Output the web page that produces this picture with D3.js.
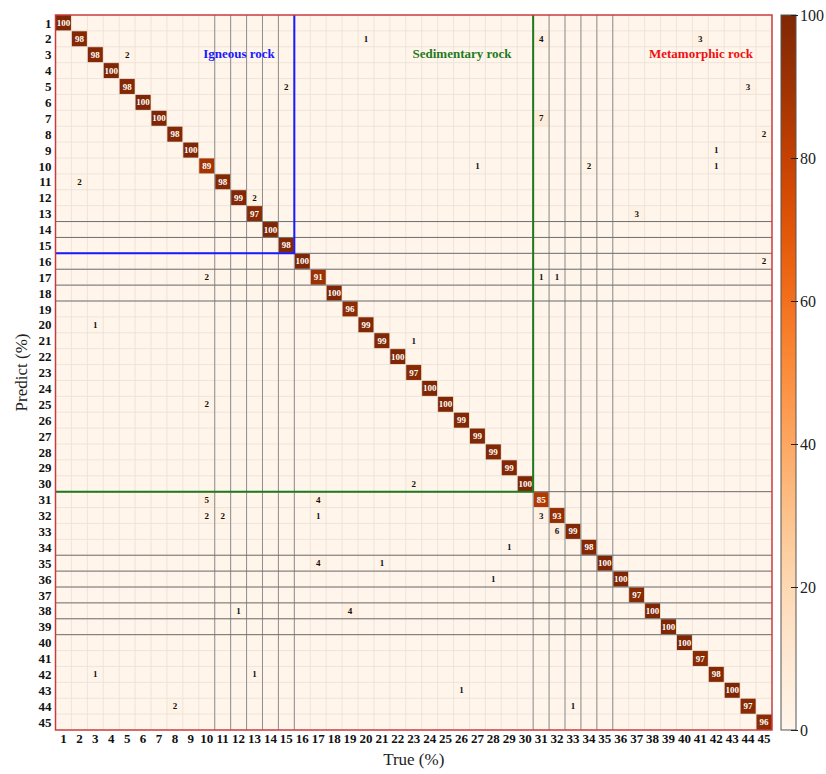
<!DOCTYPE html>
<html>
<head>
<meta charset="utf-8">
<script src="https://cdn.jsdelivr.net/npm/d3@7"></script>
<style>
  body { margin: 0; background: #fff; }
  svg { font-family: "Liberation Serif", "DejaVu Serif", serif; }
</style>
</head>
<body>
<script>
// class labels 1..45
const classes = ['1','2','3','4','5','6','7','8','9','10','11','12','13','14','15',
  '16','17','18','19','20','21','22','23','24','25','26','27','28','29','30',
  '31','32','33','34','35','36','37','38','39','40','41','42','43','44','45'];

// diagonal (correct) percentages, row i / col i
const diagonal = [100, 98, 98, 100, 98, 100, 100, 98, 100, 89, 98, 99, 97, 100, 98,
  100, 91, 100, 96, 99, 99, 100, 97, 100, 100, 99, 99, 99, 99, 100,
  85, 93, 99, 98, 100, 100, 97, 100, 100, 100, 97, 98, 100, 97, 96];

// off-diagonal entries: [predict, true, percent]
const offDiag = [
  [2, 20, 1], [2, 31, 4], [2, 41, 3],
  [3, 5, 2],
  [5, 15, 2], [5, 44, 3],
  [7, 31, 7],
  [8, 45, 2],
  [9, 42, 1],
  [10, 27, 1], [10, 34, 2], [10, 42, 1],
  [11, 2, 2],
  [12, 13, 2],
  [13, 37, 3],
  [16, 45, 2],
  [17, 10, 2], [17, 31, 1], [17, 32, 1],
  [20, 3, 1],
  [21, 23, 1],
  [25, 10, 2],
  [30, 23, 2],
  [31, 10, 5], [31, 17, 4],
  [32, 10, 2], [32, 11, 2], [32, 17, 1], [32, 31, 3],
  [33, 32, 6],
  [34, 29, 1],
  [35, 17, 4], [35, 21, 1],
  [36, 28, 1],
  [38, 12, 1], [38, 19, 4],
  [42, 3, 1], [42, 13, 1],
  [43, 26, 1],
  [44, 8, 2], [44, 33, 1]
];

const groups = [
  { name: 'Igneous rock', from: 1, to: 15, color: '#1a1aff' },
  { name: 'Sedimentary rock', from: 16, to: 30, color: '#1f7a1f' },
  { name: 'Metamorphic rock', from: 31, to: 45, color: '#ee1111' }
];

const colorTicks = [0, 20, 40, 60, 80, 100];

// boundaries (after class n) that get a darker grid line
const darkCols = [10, 11, 12, 13, 14, 15, 30, 31, 32, 33, 34, 35];
const darkRows = [13, 14, 15, 16, 17, 18, 30, 34, 35, 36, 37, 38, 39];

const width = 826, height = 774;
const mLeft = 55.5, mRight = 772, mTop = 15, mBottom = 730;

const svg = d3.select('body').append('svg')
  .attr('width', width)
  .attr('height', height);

const x = d3.scaleBand().domain(classes).range([mLeft, mRight]);
const y = d3.scaleBand().domain(classes).range([mTop, mBottom]);
const color = v => d3.interpolateOranges(v / 100);

// build full matrix cells
const cells = [];
classes.forEach(r => classes.forEach(c => cells.push({ r, c, v: 0 })));
const cellAt = (r, c) => cells[(r - 1) * classes.length + (c - 1)];
diagonal.forEach((v, i) => { cellAt(i + 1, i + 1).v = v; });
offDiag.forEach(([r, c, v]) => { cellAt(r, c).v = v; });

svg.append('g').selectAll('rect')
  .data(cells)
  .join('rect')
  .attr('x', d => x(d.c))
  .attr('y', d => y(d.r))
  .attr('width', x.bandwidth())
  .attr('height', y.bandwidth())
  .attr('fill', d => color(d.v));

// light grid
const grid = svg.append('g').attr('stroke', '#e8e0d6').attr('stroke-width', 0.8);
classes.slice(1).forEach(c => {
  grid.append('line').attr('x1', x(c)).attr('x2', x(c)).attr('y1', mTop).attr('y2', mBottom);
  grid.append('line').attr('y1', y(c)).attr('y2', y(c)).attr('x1', mLeft).attr('x2', mRight);
});

// darker lines
const dark = svg.append('g').attr('stroke-width', 1);
darkCols.forEach(n => {
  const xx = x(classes[n]);
  dark.append('line').attr('stroke', '#8f8f8f')
    .attr('x1', xx).attr('x2', xx).attr('y1', mTop).attr('y2', mBottom);
});
darkRows.forEach(n => {
  const yy = y(classes[n]);
  dark.append('line').attr('stroke', '#6f6f6f')
    .attr('y1', yy).attr('y2', yy).attr('x1', mLeft).attr('x2', mRight);
});

// cell values
svg.append('g').selectAll('text')
  .data(cells.filter(d => d.v > 0))
  .join('text')
  .attr('x', d => x(d.c) + x.bandwidth() / 2)
  .attr('y', d => y(d.r) + y.bandwidth() / 2 + 3)
  .attr('text-anchor', 'middle')
  .attr('font-size', 9)
  .attr('font-weight', 'bold')
  .attr('fill', d => d.v > 50 ? '#fff' : '#111')
  .text(d => d.v);

// group boxes (blue / green)
groups.slice(0, 2).forEach(g => {
  const edge = x(classes[g.to]);
  const edgeY = y(classes[g.to]);
  svg.append('path')
    .attr('d', `M${mLeft},${edgeY}H${edge}V${mTop}`)
    .attr('fill', 'none')
    .attr('stroke', g.color)
    .attr('stroke-width', 2);
});

// group names
const nameX = { 'Igneous rock': 239, 'Sedimentary rock': 462, 'Metamorphic rock': 701 };
groups.forEach(g => {
  svg.append('text')
    .attr('x', nameX[g.name])
    .attr('y', 58)
    .attr('text-anchor', 'middle')
    .attr('font-size', 13)
    .attr('font-weight', 'bold')
    .attr('fill', g.color)
    .text(g.name);
});

// outer border
svg.append('rect')
  .attr('x', mLeft).attr('y', mTop)
  .attr('width', mRight - mLeft).attr('height', mBottom - mTop)
  .attr('fill', 'none')
  .attr('stroke', '#cc3b3b')
  .attr('stroke-width', 1.5);

// axes
const xAxis = svg.append('g')
  .attr('transform', `translate(0,${mBottom + 3})`)
  .call(d3.axisBottom(x).tickSize(0).tickPadding(1));
const yAxis = svg.append('g')
  .attr('transform', `translate(${mLeft - 3},0)`)
  .call(d3.axisLeft(y).tickSize(0).tickPadding(1));
[xAxis, yAxis].forEach(a => {
  a.select('.domain').remove();
  a.selectAll('text')
    .attr('font-family', '"Liberation Serif", serif')
    .attr('font-size', 13)
    .attr('font-weight', 'bold')
    .attr('fill', '#111');
});
yAxis.selectAll('text').attr('dy', '0.35em');

svg.append('text')
  .attr('x', (mLeft + mRight) / 2)
  .attr('y', 765)
  .attr('text-anchor', 'middle')
  .attr('font-size', 17)
  .attr('fill', '#222')
  .text('True (%)');

svg.append('text')
  .attr('transform', `translate(27,${(mTop + mBottom) / 2}) rotate(-90)`)
  .attr('text-anchor', 'middle')
  .attr('font-size', 17)
  .attr('fill', '#222')
  .text('Predict (%)');

// colorbar
const cbX = 781, cbW = 15;
const cScale = d3.scaleLinear().domain([0, 100]).range([mBottom, mTop]);
const grad = svg.append('defs').append('linearGradient')
  .attr('id', 'cbar').attr('x1', 0).attr('y1', 1).attr('x2', 0).attr('y2', 0);
d3.range(0, 1.0001, 0.05).forEach(t => {
  grad.append('stop').attr('offset', t).attr('stop-color', d3.interpolateOranges(t));
});
svg.append('rect')
  .attr('x', cbX).attr('y', mTop)
  .attr('width', cbW).attr('height', mBottom - mTop)
  .attr('fill', 'url(#cbar)')
  .attr('stroke', '#555')
  .attr('stroke-width', 1);

const cAxis = svg.append('g')
  .attr('transform', `translate(${cbX + cbW},0)`)
  .call(d3.axisRight(cScale).tickValues(colorTicks).tickSize(2).tickPadding(2));
cAxis.select('.domain').remove();
cAxis.selectAll('.tick line').attr('x1', -5).attr('stroke', '#222');
cAxis.selectAll('text')
  .attr('font-family', '"Liberation Serif", serif')
  .attr('font-size', 16)
  .attr('fill', '#222');
</script>
</body>
</html>
